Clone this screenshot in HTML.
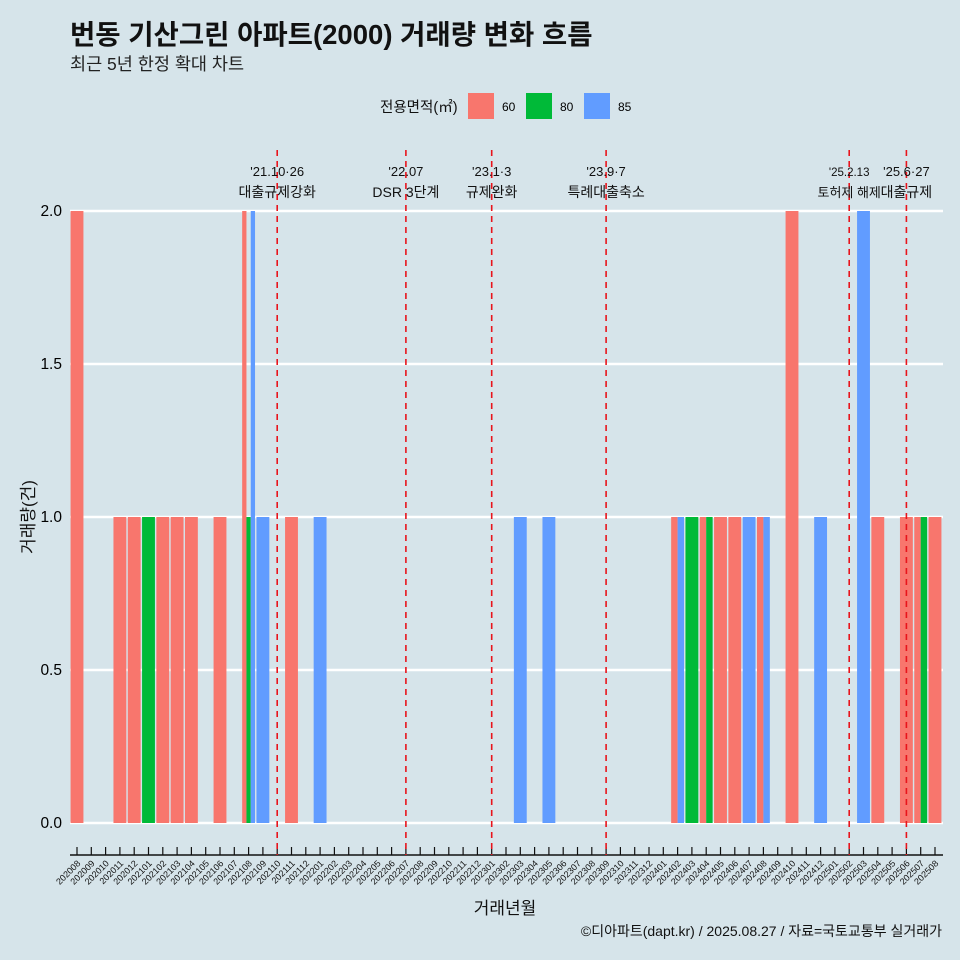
<!DOCTYPE html>
<html><head><meta charset="utf-8">
<style>
body{margin:0;background:#d6e4ea;}
svg{display:block;font-family:"Liberation Sans","Noto Sans CJK KR",sans-serif;}
</style></head>
<body>
<svg id="c" width="960" height="960" viewBox="0 0 960 960">
<rect x="0" y="0" width="960" height="960" fill="#d6e4ea"/>
<text x="70" y="44" font-size="27.5" font-weight="bold" fill="#111">번동 기산그린 아파트(2000) 거래량 변화 흐름</text>
<text x="70" y="70" font-size="17.5" fill="#222">최근 5년 한정 확대 차트</text>
<g>
<text x="380" y="112" font-size="14.5" fill="#111">전용면적(㎡)</text>
<rect x="468" y="93" width="26" height="26" fill="#F8766D"/>
<text x="502" y="111" font-size="12">60</text>
<rect x="526" y="93" width="26" height="26" fill="#00BA38"/>
<text x="560" y="111" font-size="12">80</text>
<rect x="584" y="93" width="26" height="26" fill="#619CFF"/>
<text x="618" y="111" font-size="12">85</text>
</g>
<g id="plot"></g>
<text x="505" y="914" font-size="17" text-anchor="middle" fill="#111">거래년월</text>
<text transform="translate(34,517) rotate(-90)" font-size="17" text-anchor="middle" fill="#111">거래량(건)</text>
<text x="942" y="936" font-size="14" text-anchor="end" fill="#111">©디아파트(dapt.kr) / 2025.08.27 / 자료=국토교통부 실거래가</text>
</svg>
<script>
const months = [];
for (let y=2020;y<=2025;y++) for (let m=1;m<=12;m++){const k=y*100+m; if(k>=202008&&k<=202508) months.push(String(k));}
const types = ['60','80','85'];
const colors = {'60':'#F8766D','80':'#00BA38','85':'#619CFF'};
const series60 = {'202008':2,'202011':1,'202012':1,'202102':1,'202103':1,'202104':1,'202106':1,'202108':2,'202111':1,'202402':1,'202404':1,'202405':1,'202406':1,'202408':1,'202410':2,'202504':1,'202506':1,'202507':1,'202508':1};
const series80 = {'202101':1,'202108':1,'202403':1,'202404':1,'202507':1};
const series85 = {'202108':2,'202109':1,'202201':1,'202303':1,'202305':1,'202402':1,'202407':1,'202408':1,'202412':1,'202503':2};
const yTicks = [0,0.5,1,1.5,2];
const yTickLabels = ['0.0','0.5','1.0','1.5','2.0'];
const eventMonths = ['202110','202207','202301','202309','202502','202506'];
const eventDates = ["'21.10·26","'22.07","'23.1·3","'23.9·7","'25.2.13","'25.6·27"];
const eventNames = ['대출규제강화','DSR 3단계','규제완화','특례대출축소','토허제 해제','대출규제'];

const NS='http://www.w3.org/2000/svg';
const g=document.getElementById('plot');
const x0=77, step=(935-77)/(months.length-1);
const xs=i=>x0+i*step;
const ys=v=>823-v*306;
function el(t,a){const e=document.createElementNS(NS,t);for(const k in a)e.setAttribute(k,a[k]);g.appendChild(e);return e;}

yTicks.forEach((v,i)=>{
  const l=el('line',{x1:70,x2:943,y1:ys(v),y2:ys(v),stroke:'#fff','stroke-width':2.6});
  
  
  const t=el('text',{x:62,y:ys(v)+5,'font-size':15.5,'text-anchor':'end',fill:'#000'});
  t.textContent=yTickLabels[i];
  
  
});

const data={'60':series60,'80':series80,'85':series85};
months.forEach((m,i)=>{
  const present=types.filter(t=>data[t][m]);
  if(!present.length) return;
  const W=step*0.9, w=W/present.length;
  present.forEach((t,j)=>{
    const v=data[t][m];
    const r=el('rect',{x:xs(i)-W/2+j*w,y:ys(v),width:w,height:ys(0)-ys(v),fill:colors[t]});
    
    
  });
});

const ax=el('line',{x1:70,x2:943,y1:855,y2:855,stroke:'#111','stroke-width':1.5});


months.forEach((m,i)=>{
  const tk=el('line',{x1:xs(i),x2:xs(i),y1:847,y2:855,stroke:'#111','stroke-width':1.2});
  
  
  const t=el('text',{x:xs(i)+4,y:864,'font-size':9,'text-anchor':'end',fill:'#111',transform:`rotate(-45 ${xs(i)+4} 864)`});
  t.textContent=m;
  
  
});

eventMonths.forEach((m,k)=>{
  const x=xs(months.indexOf(m));
  const l=el('line',{x1:x,x2:x,y1:150,y2:855,stroke:'#e8141c','stroke-width':1.6,'stroke-dasharray':'6,5'});
  
  
  const small=k===4;
  const d=el('text',{x:x,y:176,'font-size':small?11.5:13,'text-anchor':'middle',fill:'#111'});
  d.textContent=eventDates[k];
  
  
  const n=el('text',{x:x,y:197,'font-size':small?13:14,'text-anchor':'middle',fill:'#111'});
  n.textContent=eventNames[k];
  
  
});
</script>
</body></html>
